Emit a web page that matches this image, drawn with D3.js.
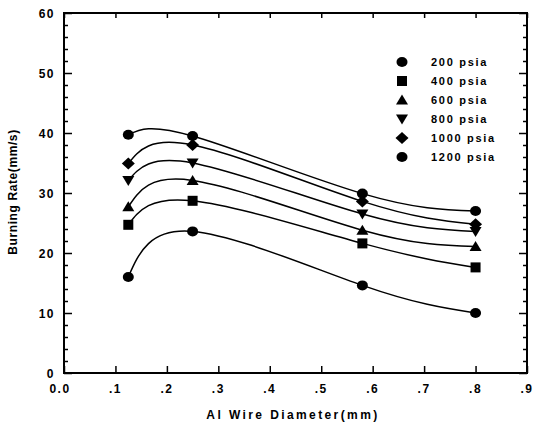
<!DOCTYPE html>
<html><head><meta charset="utf-8">
<script src="https://cdn.jsdelivr.net/npm/d3@7"></script>
<style>
body{margin:0;background:#fff;}
text{font-family:"Liberation Sans",Arial,sans-serif;font-weight:bold;fill:#000;}
</style></head>
<body><svg id="c" width="534" height="428"></svg>
<script>
const diameters = [0.125, 0.25, 0.58, 0.80];
const seriesNames = ["200 psia","400 psia","600 psia","800 psia","1000 psia","1200 psia"];
const s200  = [16.0, 23.6, 14.6, 10.0];
const s400  = [24.7, 28.7, 21.6, 17.6];
const s600  = [27.7, 32.1, 23.8, 21.1];
const s800  = [32.1, 35.0, 26.5, 23.6];
const s1000 = [34.9, 38.0, 28.6, 24.8];
const s1200 = [39.7, 39.5, 29.9, 27.0];
const xTicks = [0,0.1,0.2,0.3,0.4,0.5,0.6,0.7,0.8,0.9];
const xTickLabels = ["0.0",".1",".2",".3",".4",".5",".6",".7",".8",".9"];
const yTicks = [0,10,20,30,40,50,60];

const allSeries = [s200,s400,s600,s800,s1000,s1200];
const symbols = ["circle","square","triangle","triangleDown","diamond","circle"];

const svg = d3.select("#c");
const L=64, R=527, T=13, B=373;
const x = d3.scaleLinear().domain([0,0.9]).range([L,R]);
const y = d3.scaleLinear().domain([0,60]).range([B,T]);

const g = svg.append("g");

const minorY = d3.range(0,61,2);
const axL = d3.axisLeft(y).tickValues(yTicks).tickSize(-8).tickFormat("");
const axLm = d3.axisLeft(y).tickValues(minorY.filter(v=>v%10)).tickSize(-4).tickFormat("");
const axR = d3.axisRight(y).tickValues(yTicks).tickSize(-8).tickFormat("");
const axRm = d3.axisRight(y).tickValues(minorY.filter(v=>v%10)).tickSize(-4).tickFormat("");
const axB = d3.axisBottom(x).tickValues(xTicks).tickSize(-7).tickFormat("");
const axT = d3.axisTop(x).tickValues(xTicks).tickSize(-5).tickFormat("");
function st(sel){sel.selectAll("line").attr("stroke","#000").attr("stroke-width",1.5);sel.select(".domain").remove();}
g.append("g").attr("transform",`translate(${L},0)`).call(axL).call(st);
g.append("g").attr("transform",`translate(${L},0)`).call(axLm).call(st);
g.append("g").attr("transform",`translate(${R},0)`).call(axR).call(st);
g.append("g").attr("transform",`translate(${R},0)`).call(axRm).call(st);
g.append("g").attr("transform",`translate(0,${B})`).call(axB).call(st);
g.append("g").attr("transform",`translate(0,${T})`).call(axT).call(st);
g.append("rect").attr("x",L).attr("y",T).attr("width",R-L).attr("height",B-T)
 .attr("fill","none").attr("stroke","#000").attr("stroke-width",2);

g.selectAll(".yl").data(yTicks).enter().append("text")
 .attr("x",L-9).attr("y",d=>y(d)+4.5).attr("text-anchor","end")
 .attr("font-size",12).attr("letter-spacing",1.5).text(d=>d);
g.selectAll(".xl").data(xTicks).enter().append("text")
 .attr("x",(d,i)=>x(d)+(i===0?-4:0)).attr("y",B+20).attr("text-anchor","middle")
 .attr("font-size",12).attr("letter-spacing",1.5).text((d,i)=>xTickLabels[i]);

g.append("text").attr("x",293).attr("y",419).attr("text-anchor","middle")
 .attr("font-size",12).attr("letter-spacing",2.4).text("Al Wire Diameter(mm)");
g.append("text").attr("transform","translate(17,192) rotate(-90)").attr("text-anchor","middle")
 .attr("font-size",12).attr("letter-spacing",0.6).text("Burning Rate(mm/s)");

const line = d3.line().x((d,i)=>x(diameters[i])).y(d=>y(d)).curve(d3.curveNatural);
allSeries.forEach(s=>{
  g.append("path").attr("d",line(s)).attr("fill","none").attr("stroke","#000").attr("stroke-width",1.5);
});

function marker(sel,type){
  if(type==="circle"){
    sel.append("ellipse").attr("rx",5.5).attr("ry",5).attr("fill","#000");
  } else if(type==="square"){
    sel.append("rect").attr("x",-5).attr("y",-5).attr("width",10).attr("height",10).attr("fill","#000");
  } else if(type==="triangle"){
    sel.append("path").attr("d","M0,-5.5L6,4.5L-6,4.5Z").attr("fill","#000");
  } else if(type==="triangleDown"){
    sel.append("path").attr("d","M0,5.5L6,-4.5L-6,-4.5Z").attr("fill","#000");
  } else if(type==="diamond"){
    sel.append("path").attr("d","M0,-6L6.5,0L0,6L-6.5,0Z").attr("fill","#000");
  }
}
allSeries.forEach((s,k)=>{
  s.forEach((v,i)=>{
    const m = g.append("g").attr("transform",`translate(${x(diameters[i])},${y(v)})`);
    marker(m,symbols[k]);
  });
});

seriesNames.forEach((n,k)=>{
  const yy = 62 + k*19;
  const m = g.append("g").attr("transform",`translate(402,${yy})`);
  marker(m,symbols[k]);
  g.append("text").attr("x",431).attr("y",yy+4).attr("font-size",11).attr("letter-spacing",1.7).text(n);
});
</script></body></html>
